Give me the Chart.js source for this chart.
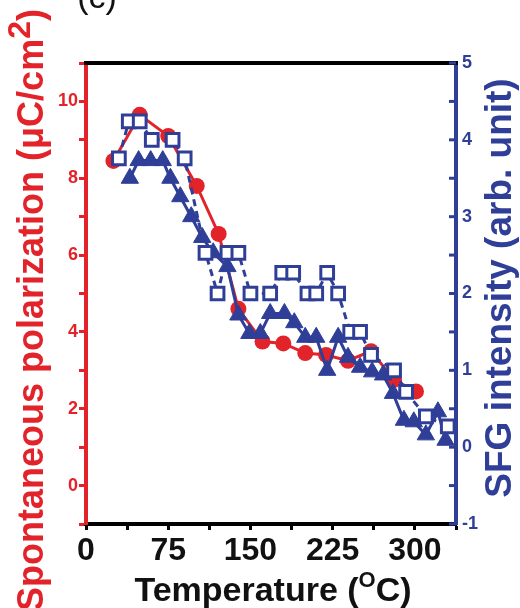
<!DOCTYPE html>
<html>
<head>
<meta charset="utf-8">
<script src="https://cdn.jsdelivr.net/npm/chart.js@4.4.1/dist/chart.umd.min.js"></script>
<style>
    html, body { margin: 0; padding: 0; background: #fff; }
    canvas { display: block; }
</style>
</head>
<body>
<canvas id="grafico" width="520" height="608"></canvas>
<script>
// polarizacao espontanea (eixo esquerdo)
const tempPol = [25, 49, 75, 101, 121, 139, 161, 180, 200, 219, 239, 260, 281, 301];
const valPol = [8.45, 9.65, 9.1, 7.8, 6.55, 4.6, 3.75, 3.7, 3.45, 3.4, 3.25, 3.5, 2.75, 2.45];

// SFG - quadrados abertos (eixo direito)
const tempQuad = [30, 39, 49, 60, 79, 90, 109, 120, 129, 139, 150, 168, 179, 189, 202, 210, 220, 230, 241, 250, 260, 281, 292, 310, 330];
const valQuad = [3.76, 4.24, 4.24, 4.0, 4.0, 3.76, 2.53, 2.0, 2.53, 2.53, 2.0, 2.0, 2.27, 2.27, 2.0, 2.0, 2.27, 2.0, 1.5, 1.5, 1.2, 1.0, 0.72, 0.4, 0.27];

// SFG - triangulos cheios (eixo direito)
const tempTri = [40, 48, 59, 70, 77, 86, 96, 106, 116, 129, 139, 149, 159, 168, 181, 190, 200, 210, 220, 230, 239, 250, 261, 271, 280, 290, 299, 310, 321, 328];
const valTri = [3.5, 3.73, 3.73, 3.73, 3.5, 3.26, 3.0, 2.73, 2.53, 2.35, 1.72, 1.48, 1.48, 1.74, 1.74, 1.62, 1.43, 1.43, 1.0, 1.43, 1.17, 1.04, 0.98, 0.94, 0.7, 0.35, 0.33, 0.16, 0.46, 0.09];

const xTicksLabel = [0, 75, 150, 225, 300];
const yLeftLabels = [0, 2, 4, 6, 8, 10];
const yRightLabels = [-1, 0, 1, 2, 3, 4, 5];

const VERMELHO = "#e2232a";
const AZUL = "#2f3f98";
const FONTE = "'Liberation Sans', Arial, sans-serif";

function pares(xs, ys) {
    return xs.map((x, i) => ({ x: x, y: ys[i] }));
}

// texto com sobrescrito
function textoRico(ctx, partes, cx, cy) {
    let total = 0;
    partes.forEach(p => {
        ctx.font = "bold " + p.size + "px " + FONTE;
        p.w = ctx.measureText(p.t).width;
        total += p.w;
    });
    let x = cx - total / 2;
    partes.forEach(p => {
        ctx.font = "bold " + p.size + "px " + FONTE;
        ctx.fillText(p.t, x, cy + (p.dy || 0));
        x += p.w;
    });
}

const extras = {
    id: "extras",
    afterDraw(chart) {
        const ctx = chart.ctx;
        const a = chart.chartArea;

        ctx.save();
        // borda superior
        ctx.strokeStyle = "#000";
        ctx.lineWidth = 4;
        ctx.beginPath();
        ctx.moveTo(a.left - 2, a.top);
        ctx.lineTo(a.right + 2, a.top);
        ctx.stroke();

        // ticks do eixo direito para dentro
        const y2 = chart.scales.y2;
        ctx.strokeStyle = AZUL;
        ctx.lineWidth = 3;
        y2.ticks.forEach(t => {
            const py = y2.getPixelForValue(t.value);
            ctx.beginPath();
            ctx.moveTo(a.right - 7, py);
            ctx.lineTo(a.right, py);
            ctx.stroke();
        });

        ctx.textBaseline = "alphabetic";

        // titulo esquerdo
        ctx.fillStyle = VERMELHO;
        ctx.save();
        ctx.translate(43, 310);
        ctx.rotate(-Math.PI / 2);
        textoRico(ctx, [
            { t: "Spontaneous polarization (\u03bcC/cm", size: 36 },
            { t: "2", size: 32, dy: -13 },
            { t: ")", size: 36 }
        ], 0, 0);
        ctx.restore();

        // titulo direito
        ctx.fillStyle = AZUL;
        ctx.save();
        ctx.translate(511, 288);
        ctx.rotate(-Math.PI / 2);
        textoRico(ctx, [{ t: "SFG intensity (arb. unit)", size: 37 }], 0, 0);
        ctx.restore();

        // titulo inferior
        ctx.fillStyle = "#111";
        textoRico(ctx, [
            { t: "Temperature (", size: 34 },
            { t: "O", size: 22, dy: -14 },
            { t: "C)", size: 34 }
        ], 273, 601);

        // rotulo do painel
        ctx.font = "34px " + FONTE;
        ctx.textAlign = "center";
        ctx.fillText("(c)", 97, 8);
        ctx.restore();
    }
};

new Chart(document.getElementById("grafico"), {
    type: "line",
    data: {
        datasets: [
            {
                label: "Polarization",
                data: pares(tempPol, valPol),
                yAxisID: "y",
                borderColor: VERMELHO,
                backgroundColor: VERMELHO,
                borderWidth: 3,
                pointStyle: "circle",
                pointRadius: 8,
                pointBorderWidth: 0,
                order: 3
            },
            {
                label: "SFG triangulos",
                data: pares(tempTri, valTri),
                yAxisID: "y2",
                borderColor: AZUL,
                backgroundColor: AZUL,
                borderWidth: 3,
                pointStyle: "triangle",
                pointRadius: 10,
                pointBorderWidth: 1,
                order: 2
            },
            {
                label: "SFG quadrados",
                data: pares(tempQuad, valQuad),
                yAxisID: "y2",
                borderColor: AZUL,
                borderDash: [7, 5],
                borderWidth: 3,
                pointStyle: "rect",
                pointRadius: 9,
                pointBackgroundColor: "#fff",
                pointBorderColor: AZUL,
                pointBorderWidth: 3,
                order: 1
            }
        ]
    },
    options: {
        responsive: false,
        animation: false,
        devicePixelRatio: 1,
        layout: { padding: { top: 63, left: 0, right: 0, bottom: 0 } },
        plugins: {
            legend: { display: false },
            tooltip: { enabled: false }
        },
        scales: {
            x: {
                type: "linear",
                min: 0,
                max: 337.5,
                ticks: {
                    stepSize: 37.5,
                    autoSkip: false,
                    maxRotation: 0,
                    color: "#111",
                    padding: 2,
                    font: { family: FONTE, size: 32, weight: "bold" },
                    callback: v => xTicksLabel.includes(v) ? v : ""
                },
                grid: { drawOnChartArea: false, tickLength: 6, tickColor: "#000", tickWidth: 3 },
                border: { color: "#000", width: 4 },
                afterFit(s) { s.height = 84; }
            },
            y: {
                position: "left",
                min: -1,
                max: 11,
                ticks: {
                    stepSize: 1,
                    autoSkip: false,
                    color: VERMELHO,
                    padding: 1,
                    font: { family: FONTE, size: 18, weight: "bold" },
                    callback: v => yLeftLabels.includes(v) ? v : ""
                },
                grid: { drawOnChartArea: false, tickLength: 7, tickColor: VERMELHO, tickWidth: 3 },
                border: { color: VERMELHO, width: 4 },
                afterFit(s) { s.width = 86; }
            },
            y2: {
                position: "right",
                min: -1,
                max: 5,
                ticks: {
                    stepSize: 0.5,
                    autoSkip: false,
                    color: AZUL,
                    padding: 6,
                    font: { family: FONTE, size: 18, weight: "bold" },
                    callback: v => yRightLabels.includes(v) ? v : ""
                },
                grid: { drawOnChartArea: false, drawTicks: false },
                border: { color: AZUL, width: 4 },
                afterFit(s) { s.width = 64; }
            }
        }
    },
    plugins: [extras]
});
</script>
</body>
</html>
